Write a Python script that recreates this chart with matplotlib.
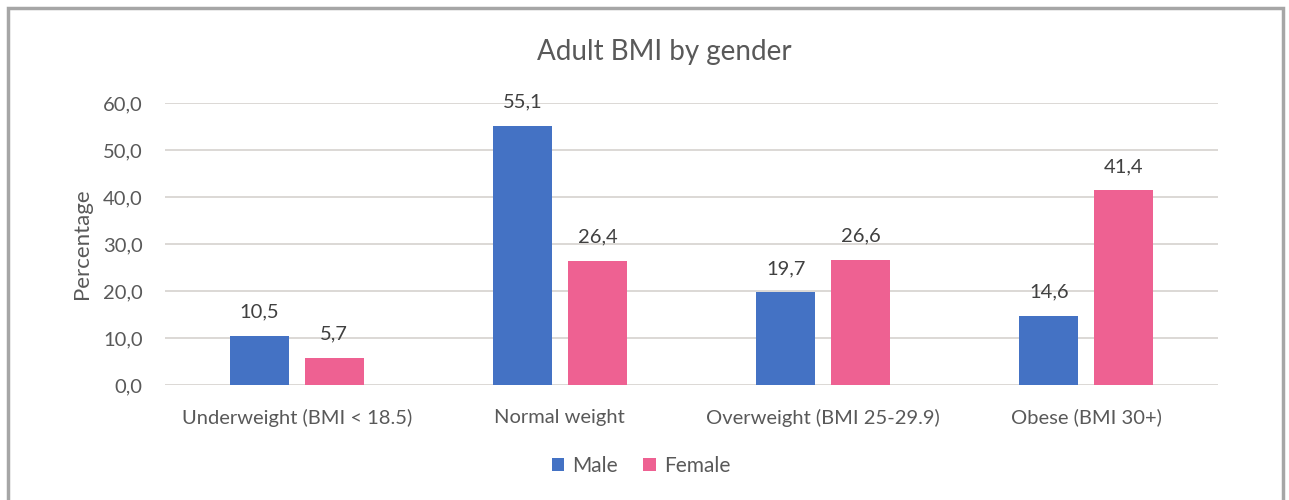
import matplotlib.pyplot as plt
import numpy as np
from matplotlib.patches import Rectangle

categories = ['Underweight (BMI < 18.5)', 'Normal weight', 'Overweight (BMI 25-29.9)', 'Obese (BMI 30+)']
male = [10.5, 55.1, 19.7, 14.6]
female = [5.7, 26.4, 26.6, 41.4]
yticks = [0, 10, 20, 30, 40, 50, 60]

plt.rcParams['font.family'] = ['Lato', 'DejaVu Sans']
text_col = '#595959'
fs = 14.5

fig = plt.figure(figsize=(12.89, 5.0), dpi=100)
ax = fig.add_axes([165 / 1289, 1 - 385 / 500, (1218 - 165) / 1289, (385 - 103) / 500])

x = np.arange(len(categories))
w = 0.224
off = 0.1426
b1 = ax.bar(x - off, male, w, color='#4472C4', label='Male', zorder=3)
b2 = ax.bar(x + off, female, w, color='#EE6192', label='Female', zorder=3)

for bars, vals in ((b1, male), (b2, female)):
    for r, v in zip(bars, vals):
        ax.text(r.get_x() + r.get_width() / 2, v + 3.3, f'{v:.1f}'.replace('.', ','),
                ha='center', va='bottom', fontsize=fs, color='#404040')

ax.set_xlim(-0.5, 3.5)
ax.set_ylim(0, 60)
ax.set_yticks(yticks)
ax.set_yticklabels([f'{t:.1f}'.replace('.', ',') for t in yticks], fontsize=fs, color=text_col)
ax.set_xticks(x)
ax.set_xticklabels(categories, fontsize=fs, color=text_col)
ax.tick_params(length=0)
ax.tick_params(axis='x', pad=17)
ax.tick_params(axis='y', pad=16)
ax.grid(axis='y', color='#D9D5D2', linewidth=1.3, zorder=0)
for s in ax.spines.values():
    s.set_visible(False)

ax.set_ylabel('Percentage', fontsize=16, color=text_col, labelpad=8)
fig.text(664 / 1289, 1 - 52 / 500, 'Adult BMI by gender', ha='center', va='center',
         fontsize=20, color=text_col)

fig.legend(loc='center', bbox_to_anchor=(641 / 1289, 1 - 466 / 500), ncol=2, frameon=False,
           fontsize=15, handlelength=0.6, handleheight=0.6, handletextpad=0.4,
           columnspacing=1.2, labelcolor=text_col)

# outer frame, open at the bottom
fig.patches.append(Rectangle((8 / 1289, -0.1), (1283 - 8) / 1289, 1.1 - 8 / 500,
                             transform=fig.transFigure, fill=False,
                             edgecolor='#A6A6A6', linewidth=2.5))

fig.savefig('out.png', dpi=100)
